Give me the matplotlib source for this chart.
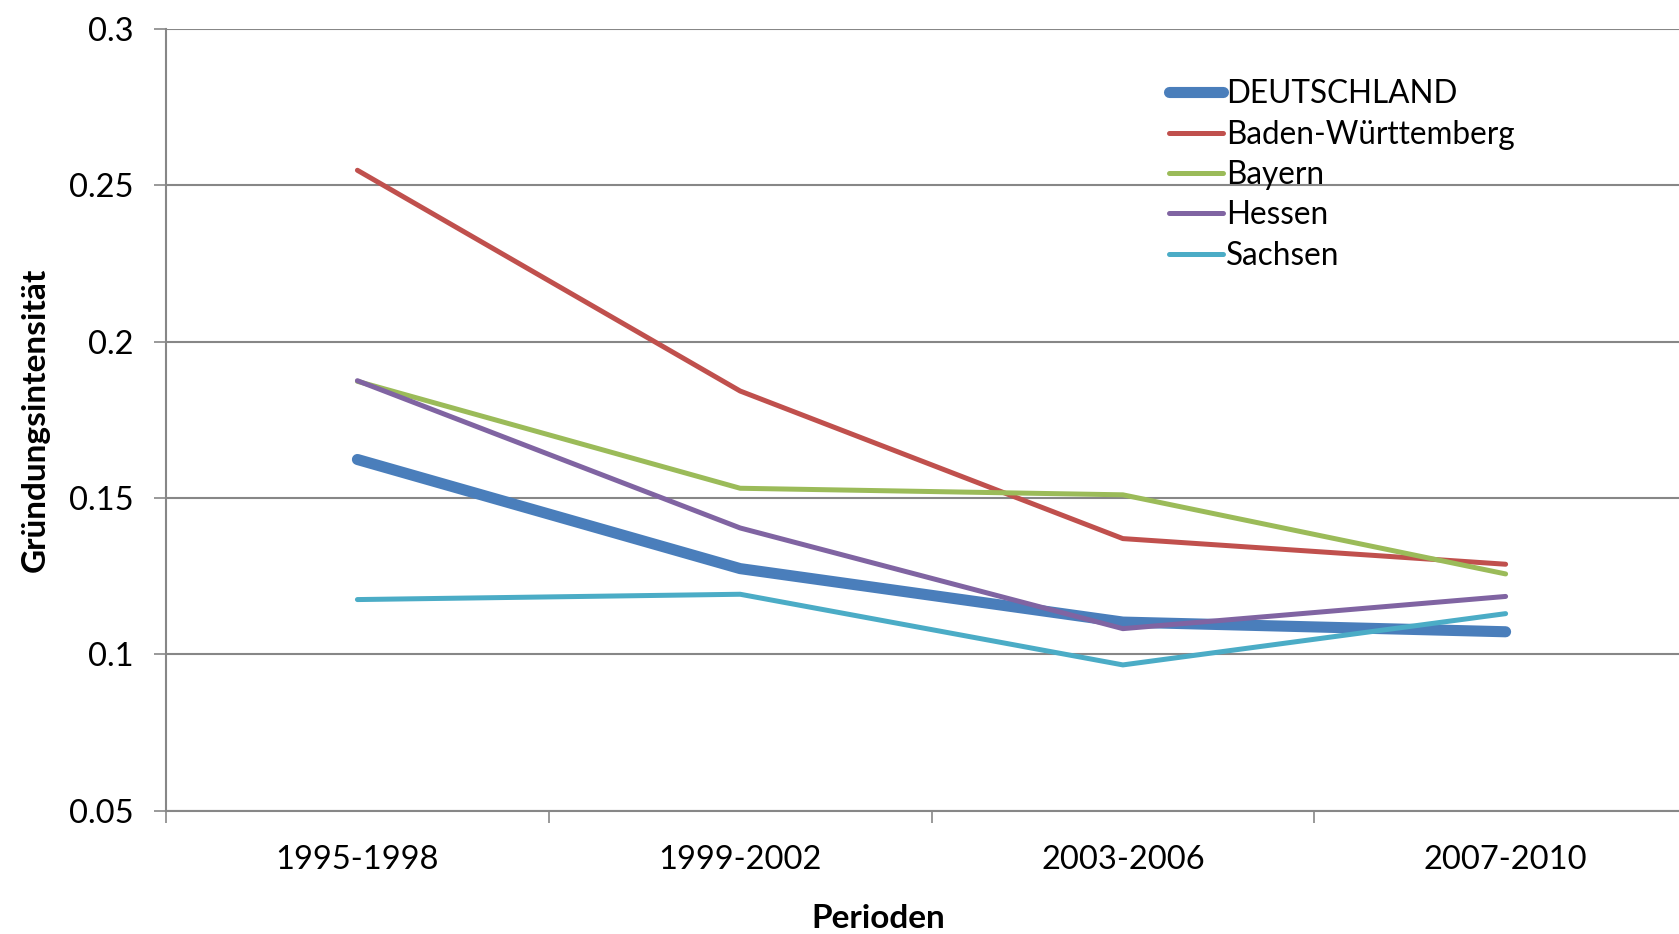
import matplotlib
matplotlib.use("Agg")
import matplotlib.pyplot as plt
from matplotlib.ticker import FixedLocator

plt.rcParams['font.family'] = ['Lato', 'DejaVu Sans']

perioden = ['1995-1998', '1999-2002', '2003-2006', '2007-2010']

deutschland = [0.1623, 0.1274, 0.1103, 0.1072]
baden_wuerttemberg = [0.2548, 0.1842, 0.1370, 0.1288]
bayern = [0.1873, 0.1531, 0.1510, 0.1257]
hessen = [0.1875, 0.1404, 0.1082, 0.1185]
sachsen = [0.1175, 0.1192, 0.0966, 0.1130]

y_ticks = [0.05, 0.1, 0.15, 0.2, 0.25, 0.3]
y_tick_labels = ['0.05', '0.1', '0.15', '0.2', '0.25', '0.3']

serien = [
    ('DEUTSCHLAND', deutschland, '#4A7EBB', 8.0),
    ('Baden-Württemberg', baden_wuerttemberg, '#C0504D', 3.6),
    ('Bayern', bayern, '#9BBB59', 3.6),
    ('Hessen', hessen, '#8064A2', 3.6),
    ('Sachsen', sachsen, '#4BACC6', 3.6),
]

fig = plt.figure(figsize=(16.79, 9.34), dpi=100)
# plot area runs past the right edge of the figure
ax = fig.add_axes([0.0989, 0.1321, 0.9118, 0.8369])

x = list(range(len(perioden)))
for name, werte, farbe, lw in serien:
    ax.plot(x, werte, color=farbe, lw=lw, label=name,
            solid_capstyle='round', solid_joinstyle='round', zorder=3)

ax.set_xlim(-0.5, len(perioden) - 0.5)
ax.set_ylim(0.05, 0.3)

grau = '#878787'
ax.set_yticks(y_ticks)
ax.set_yticklabels(y_tick_labels)
ax.yaxis.grid(True, color=grau, lw=1.5, zorder=1)
ax.set_axisbelow(True)

ax.set_xticks(x)
ax.set_xticklabels(perioden)
ax.xaxis.set_minor_locator(FixedLocator([i - 0.5 for i in range(len(perioden) + 1)]))

for side in ['top', 'right']:
    ax.spines[side].set_visible(False)
for side in ['left', 'bottom']:
    ax.spines[side].set_color(grau)
    ax.spines[side].set_linewidth(1.5)

ax.tick_params(axis='y', which='major', length=8.5, width=1.2, color=grau,
               labelsize=23.5, pad=15, labelcolor='black')
ax.tick_params(axis='x', which='major', length=0, labelsize=23.5, pad=25)
ax.tick_params(axis='x', which='minor', length=8.5, width=1.2, color=grau)

ax.set_ylabel('Gründungsintensität', fontsize=24, fontweight='bold')
ax.yaxis.set_label_coords(-0.076, 0.5)
ax.set_xlabel('Perioden', fontsize=24, fontweight='bold')
ax.xaxis.set_label_coords(0.465, -0.12)

ax.legend(loc='upper left', bbox_to_anchor=(0.687, 0.932),
          bbox_transform=fig.transFigure, frameon=False, fontsize=22.7,
          handlelength=1.7, handletextpad=0.1, labelspacing=0.33,
          borderpad=0)

fig.savefig('out.png', dpi=100)
